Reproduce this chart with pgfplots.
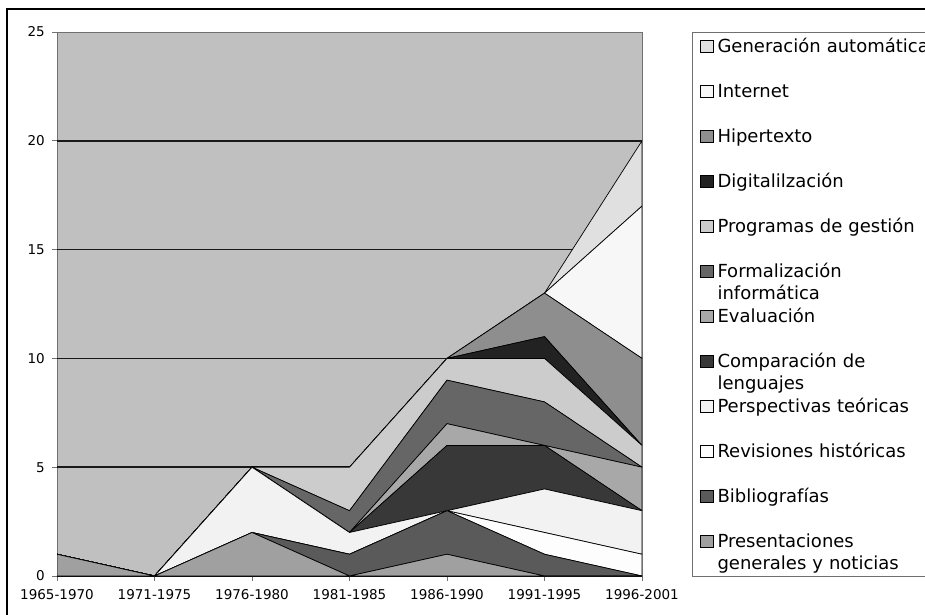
\documentclass[border=0pt]{standalone}
\usepackage{pgfplots}
\usepackage{pgfplotstable}
\pgfplotsset{compat=1.18}
\usepackage{fontspec}
\setmainfont{DejaVu Sans}

\definecolor{bggray}{HTML}{C0C0C0}
\definecolor{cpres}{HTML}{A0A0A0}
\definecolor{cbib}{HTML}{5A5A5A}
\definecolor{crev}{HTML}{FDFDFD}
\definecolor{cpersp}{HTML}{F2F2F2}
\definecolor{ccomp}{HTML}{383838}
\definecolor{ceval}{HTML}{A8A8A8}
\definecolor{cform}{HTML}{666666}
\definecolor{cprog}{HTML}{CCCCCC}
\definecolor{cdig}{HTML}{222222}
\definecolor{chip}{HTML}{8E8E8E}
\definecolor{cint}{HTML}{F7F7F7}
\definecolor{cgen}{HTML}{E0E0E0}
\definecolor{axgray}{HTML}{707070}

\pgfplotstableread{
x pres bib rev persp comp eval form prog dig hip int gen
0 1 0 0 0 0 0 0 0 0 0 0 0
1 0 0 0 0 0 0 0 0 0 0 0 0
2 2 0 0 3 0 0 0 0 0 0 0 0
3 0 1 0 1 0 0 1 2 0 0 0 0
4 1 2 0 0 3 1 2 1 0 0 0 0
5 0 1 1 2 2 0 2 2 1 2 0 0
6 0 0 1 2 0 2 0 1 0 4 7 3
}\datatable

\begin{document}
\begin{tikzpicture}
\useasboundingbox (0pt,0pt) rectangle (925pt,614pt);
\begin{axis}[
  at={(57pt,38pt)}, anchor=south west,
  scale only axis, width=585pt, height=544pt,
  xmin=0, xmax=6, ymin=0, ymax=25,
  xtick={0,1,2,3,4,5,6},
  xticklabels={1965-1970,1971-1975,1976-1980,1981-1985,1986-1990,1991-1995,1996-2001},
  ytick={0,5,10,15,20,25},
  yticklabels={0,5,10,15,20,25},
  extra y ticks={5,10,15,20},
  extra y tick labels={},
  extra y tick style={ymajorgrids=true, major tick length=0pt,
     grid style={draw=black!90, line width=1.6pt}},
  stack plots=y,
  axis background/.style={fill=bggray},
  axis line style={draw=axgray, line width=0.8pt},
  tick align=outside,
  major tick length=5pt,
  xtick pos=left, ytick pos=left,
  tick style={draw=axgray, line width=0.8pt},
  tick label style={font=\fontsize{13.5}{15}\selectfont, inner sep=0pt},
  yticklabel style={font=\fontsize{13.5}{15}\selectfont, inner sep=0pt, anchor=east, xshift=-7pt},
  xticklabel style={font=\fontsize{13.5}{15}\selectfont, inner sep=0pt, anchor=north, yshift=-8pt},
  reverse legend,
  legend cell align=left,
  legend style={at={(1.0855,1.0)}, anchor=north west,
     draw=axgray, line width=0.8pt, inner xsep=8pt, inner ysep=2pt,
     column sep=4pt, row sep=0pt,
     font=\fontsize{18}{22.5}\selectfont,
     nodes={inner sep=0pt, text height=18pt, text depth=27pt,
            text width=260pt, align=left, anchor=base west}},
  legend image code/.code={\draw[#1, draw=black, line width=0.6pt] (0pt,0pt) rectangle (12.5pt,12.5pt);},
  every axis plot/.append style={draw=black, line width=0.7pt},
]
\addplot[fill=cpres] table[x=x,y=pres]{\datatable} \closedcycle;
\addplot[fill=cbib] table[x=x,y=bib]{\datatable} \closedcycle;
\addplot[fill=crev] table[x=x,y=rev]{\datatable} \closedcycle;
\addplot[fill=cpersp] table[x=x,y=persp]{\datatable} \closedcycle;
\addplot[fill=ccomp] table[x=x,y=comp]{\datatable} \closedcycle;
\addplot[fill=ceval] table[x=x,y=eval]{\datatable} \closedcycle;
\addplot[fill=cform] table[x=x,y=form]{\datatable} \closedcycle;
\addplot[fill=cprog] table[x=x,y=prog]{\datatable} \closedcycle;
\addplot[fill=cdig] table[x=x,y=dig]{\datatable} \closedcycle;
\addplot[fill=chip] table[x=x,y=hip]{\datatable} \closedcycle;
\addplot[fill=cint] table[x=x,y=int]{\datatable} \closedcycle;
\addplot[fill=cgen] table[x=x,y=gen]{\datatable} \closedcycle;
\legend{Presentaciones\\generales y noticias,Bibliografías,Revisiones históricas,Perspectivas teóricas,Comparación de\\lenguajes,Evaluación,Formalización\\informática,Programas de gestión,Digitalilzación,Hipertexto,Internet,Generación automática}
\draw[black, line width=1.4pt] (axis cs:0,0) -- (axis cs:6,0);
\end{axis}
\draw[black, line width=1.6pt] (7pt,-5pt) -- (7pt,605pt) -- (935pt,605pt);
\end{tikzpicture}
\end{document}
